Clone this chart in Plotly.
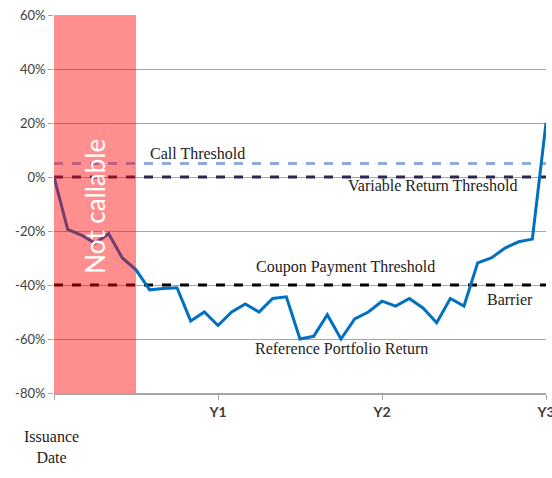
import plotly.graph_objects as go

# reference portfolio return, monthly over three years (%)
months = list(range(37))
portfolio_return = [0, -19.4, -21.5, -24.5, -21, -30, -34.4, -41.8, -41.3, -41,
                    -53.3, -50, -55, -50, -47, -50, -45, -44.4, -60, -59,
                    -51, -60, -52.6, -50, -46, -47.8, -45, -48.5, -54, -45,
                    -47.8, -31.8, -30, -26.3, -24, -23, 20]

call_threshold = 5
variable_return_threshold = 0
coupon_threshold = -40
barrier = -40
not_callable_end = 6

tick_months = [0, 12, 24, 36]
tick_labels = ["", "Y1", "Y2", "Y3"]
y_ticks = [-80, -60, -40, -20, 0, 20, 40, 60]

fig = go.Figure()

x_span = [months[0], months[-1]]
fig.add_trace(go.Scatter(x=x_span, y=[call_threshold] * 2, mode="lines",
                         line=dict(color="#8FAADC", width=3, dash="dash")))
fig.add_trace(go.Scatter(x=x_span, y=[variable_return_threshold] * 2, mode="lines",
                         line=dict(color="#2E2550", width=3, dash="dash")))
fig.add_trace(go.Scatter(x=x_span, y=[coupon_threshold] * 2, mode="lines",
                         line=dict(color="#000000", width=3, dash="dash")))
fig.add_trace(go.Scatter(x=months, y=portfolio_return, mode="lines",
                         line=dict(color="#0070C0", width=3)))

fig.add_shape(type="rect", xref="x", yref="paper", x0=0, x1=not_callable_end, y0=0, y1=1,
              fillcolor="rgba(255,0,0,0.44)", line_width=0, layer="above")

serif = dict(family="Liberation Serif", size=16, color="#222222")
fig.add_annotation(x=not_callable_end / 2, y=-11, text="Not callable", textangle=-90,
                   showarrow=False, font=dict(family="Lato", size=26, color="white"))
fig.add_annotation(x=10.5, y=call_threshold, yshift=10, text="Call Threshold",
                   showarrow=False, font=serif)
fig.add_annotation(x=27.7, y=variable_return_threshold, yshift=-8,
                   text="Variable Return Threshold", showarrow=False, font=serif)
fig.add_annotation(x=21.3, y=coupon_threshold, yshift=18,
                   text="Coupon Payment Threshold", showarrow=False, font=serif)
fig.add_annotation(x=33.4, y=barrier, yshift=-14, text="Barrier",
                   showarrow=False, font=serif)
fig.add_annotation(x=21, y=-63.7, text="Reference Portfolio Return",
                   showarrow=False, font=serif)
fig.add_annotation(xref="paper", yref="paper", x=-0.006, y=-0.143,
                   text="Issuance<br>Date", showarrow=False, font=serif,
                   xanchor="center", yanchor="middle")

fig.update_layout(
    width=552, height=478,
    margin=dict(l=54, r=6, t=15, b=85),
    paper_bgcolor="white", plot_bgcolor="white",
    showlegend=False,
    font=dict(family="Lato", size=13, color="#404040"),
    xaxis=dict(range=[0, 36], tickvals=tick_months, ticktext=tick_labels,
               showgrid=False, zeroline=False, showline=True, linecolor="#A6A6A6",
               linewidth=1.5, ticks="outside", ticklen=5, tickcolor="#A6A6A6",
               automargin=False, ticklabeloverflow="allow",
               tickfont=dict(family="Lato", size=14, color="#404040", weight="bold")),
    yaxis=dict(range=[-80, 60], tickvals=y_ticks,
               ticktext=[f"{v}%" for v in y_ticks],
               showgrid=True, gridcolor="#A6A6A6", gridwidth=1, zeroline=False,
               showline=False, ticks="outside", ticklen=5, tickcolor="#A6A6A6",
               automargin=False,
               tickfont=dict(family="Lato", size=13, color="#404040")),
)

fig.write_html("out.html", config={"displayModeBar": False},
               post_script="document.body.style.margin='0';")
